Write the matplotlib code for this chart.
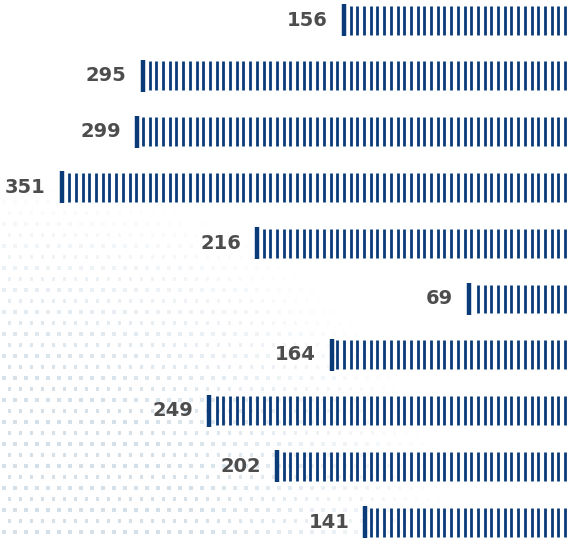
import numpy as np
import matplotlib
matplotlib.use('Agg')
import matplotlib.pyplot as plt

values = [156, 295, 299, 351, 216, 69, 164, 249, 202, 141]
labels = ['156', '295', '299', '351', '216', '69', '164', '249', '202', '141']

NAVY = '#0b3a78'
TEXT = '#4d4d4d'

PX_PER_UNIT = 1.445  # horizontal scale, pixels per value unit
ROW_PX = 55.8        # vertical distance between bars in pixels
STEP = 6.7 / PX_PER_UNIT


def main():
    fig = plt.figure(figsize=(5.71, 5.38), dpi=100)
    fig.patch.set_facecolor('white')

    # decorative dotted backdrop (bottom-left)
    bg = fig.add_axes([0, 0, 1, 1])
    bg.set_xlim(0, 571)
    bg.set_ylim(538, 0)
    bg.axis('off')
    gx, gy = np.meshgrid(np.arange(4, 460, 11), np.arange(180, 545, 11))
    gx = gx + (gy // 11 % 2) * 5.5
    d = np.hypot(gx / 450.0, (538 - gy) / 360.0)
    keep = d < 1.0
    alpha = np.clip((1.0 - d[keep]) * 0.8, 0, 0.45)
    cols = np.zeros((keep.sum(), 4))
    cols[:, :3] = matplotlib.colors.to_rgb('#a3bccf')
    cols[:, 3] = alpha
    bg.scatter(gx[keep], gy[keep], s=5, c=cols, marker='s', linewidths=0)

    ax = fig.add_axes([0, 0, 1, 1], facecolor='none')
    ax.set_xlim(569 / PX_PER_UNIT, -2 / PX_PER_UNIT)
    ax.set_ylim((538 - 20) / ROW_PX, -20 / ROW_PX)
    ax.axis('off')

    half = 14.5 / ROW_PX
    thick_half = 16.0 / ROW_PX
    for i, (v, lab) in enumerate(zip(values, labels)):
        xs = np.arange(4 / PX_PER_UNIT, v - STEP * 0.6, STEP)
        ax.vlines(xs, i - half, i + half, colors=NAVY, linewidth=2.0)
        ax.vlines([v], i - thick_half, i + thick_half, colors=NAVY, linewidth=3.2)
        ax.text(v + 16 / PX_PER_UNIT, i, lab, ha='right', va='center',
                fontsize=14, fontweight='bold', color=TEXT,
                family='DejaVu Sans')

    fig.savefig('out.png', dpi=100, facecolor='white')


if __name__ == '__main__':
    main()
